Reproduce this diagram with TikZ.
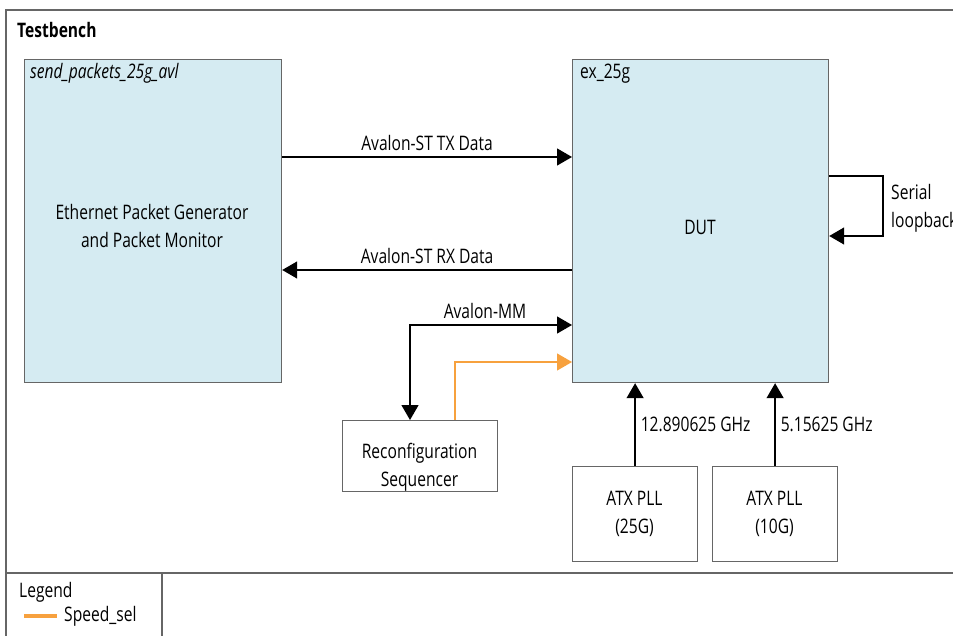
\documentclass[tikz,border=0pt]{standalone}
\usepackage{fontspec}
\setmainfont{Open Sans}[FakeStretch=0.78]
\usetikzlibrary{arrows.meta}
\definecolor{boxblue}{HTML}{D5EBF2}
\definecolor{frameg}{HTML}{666666}
\definecolor{speedorange}{HTML}{F7A13E}
\tikzset{
  tipend/.style={-{Triangle[length=15pt,width=17pt]}},
  bluebox/.style={draw=frameg,fill=boxblue,line width=1.2pt},
  whitebox/.style={draw=frameg,fill=white,line width=1.2pt},
  lbl/.style={font=\fontsize{20}{28}\selectfont,inner sep=0pt},
  conn/.style={line width=1.3pt,black},
  orangeconn/.style={line width=1.3pt,speedorange},
}
\begin{document}
\begin{tikzpicture}[x=1pt,y=-1pt]
\useasboundingbox (0,0) rectangle (953,636);
% frame
\draw[frameg,line width=1.2pt] (970,10) -- (6,10) -- (6,640);
\draw[frameg,line width=1.2pt] (6,573) -- (970,573);
\draw[frameg,line width=1.2pt] (162,573) -- (162,640);
\node[lbl,anchor=base west,font=\fontsize{20}{24}\selectfont\bfseries] (tb) at (17,38) {Testbench};
% blue boxes
\node[bluebox,minimum width=257pt,minimum height=323pt,anchor=north west,inner sep=0pt] (gen) at (24,59) {};
\node[lbl,anchor=base west,font=\fontsize{20}{24}\selectfont\itshape] (gent) at (30,79) {send\_packets\_25g\_avl};
\node[lbl,align=center] (genm) at (152,226) {Ethernet Packet Generator\\and Packet Monitor};
\node[bluebox,minimum width=256pt,minimum height=323pt,anchor=north west,inner sep=0pt] (dut) at (572,59) {};
\node[lbl,anchor=base west] (dutt) at (580,79) {ex\_25g};
\node[lbl] (dutm) at (700,227) {DUT};
% reconfig
\node[whitebox,minimum width=155pt,minimum height=71pt,anchor=north west,inner sep=0pt] (rec) at (342,420) {};
\node[lbl,align=center] (recm) at (419.5,467) {Reconfiguration\\Sequencer};
% PLLs
\node[whitebox,minimum width=125pt,minimum height=95pt,anchor=north west,inner sep=0pt] (pll1) at (572,466) {};
\node[lbl,align=center] (pll1m) at (634.5,514) {ATX PLL\\(25G)};
\node[whitebox,minimum width=125pt,minimum height=95pt,anchor=north west,inner sep=0pt] (pll2) at (712,466) {};
\node[lbl,align=center] (pll2m) at (774.5,514) {ATX PLL\\(10G)};
% coordinates
\coordinate (txs) at (gen.east |- 0,157);
\coordinate (txe) at (dut.west |- 0,157);
\coordinate (rxs) at (dut.west |- 0,270);
\coordinate (rxe) at (gen.east |- 0,270);
\coordinate (mme) at (dut.west |- 0,325);
\coordinate (mmc) at (410,325);
\coordinate (mmb) at (410,420);
\coordinate (spe) at (dut.west |- 0,362);
\coordinate (spc) at (455,362);
\coordinate (spb) at (455,420);
% connectors
\draw[conn,tipend] (txs) -- node[lbl,above=6pt] (txl) {Avalon-ST TX Data} (txe);
\draw[conn,tipend] (rxs) -- node[lbl,above=6pt] (rxl) {Avalon-ST RX Data} (rxe);
\draw[conn,{Triangle[length=15pt,width=17pt]}-{Triangle[length=15pt,width=17pt]}] (mmb) -- (mmc) -- (mme);
\node[lbl] (mml) at (485,311) {Avalon-MM};
\draw[orangeconn,-{Triangle[length=15pt,width=17pt]}] (spb) -- (spc) -- (spe);
\draw[conn,tipend] (pll1.north) -- node[lbl,right=5pt] (f1) {12.890625 GHz} (pll1.north |- dut.south);
\draw[conn,tipend] (pll2.north) -- node[lbl,right=5pt] (f2) {5.15625 GHz} (pll2.north |- dut.south);
% loopback
\coordinate (lb1) at (dut.east |- 0,176);
\coordinate (lb2) at (883,176);
\coordinate (lb3) at (883,236);
\coordinate (lb4) at (dut.east |- 0,236);
\draw[conn,tipend] (lb1) -- (lb2) -- (lb3) -- (lb4);
\node[lbl,align=left,anchor=west] (lbl) at (891,208) {Serial\\loopback};
% legend
\node[lbl,anchor=base west] (leg) at (19,597) {Legend};
\coordinate (ls) at (24,616);
\coordinate (le) at (57,616);
\draw[speedorange,line width=3.5pt] (ls) -- (le);
\node[lbl,anchor=west] (legs) at (64,616) {Speed\_sel};
\end{tikzpicture}
\end{document}
